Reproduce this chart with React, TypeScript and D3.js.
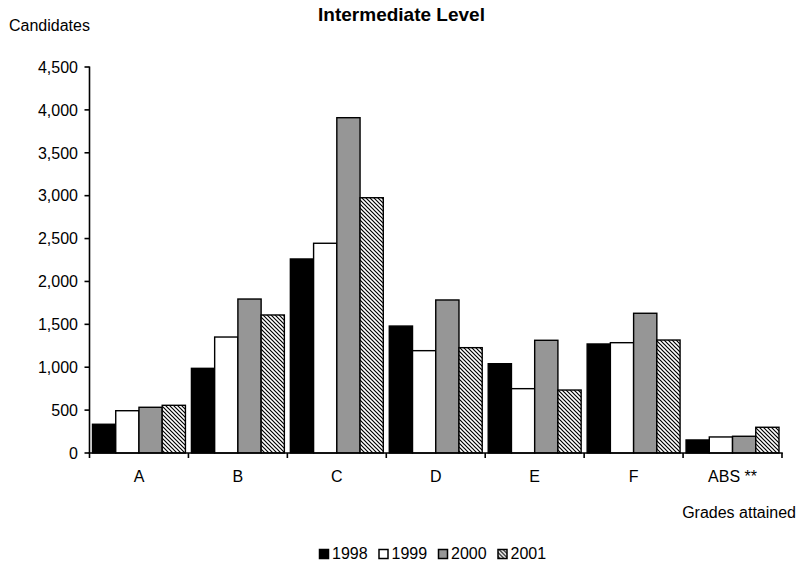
import React from "react";
import * as d3 from "d3";

const categories = ["A", "B", "C", "D", "E", "F", "ABS **"];
const seriesNames = ["1998", "1999", "2000", "2001"];
const values1998 = [335, 987, 2262, 1480, 1041, 1271, 152];
const values1999 = [493, 1352, 2445, 1193, 750, 1286, 187];
const values2000 = [533, 1795, 3909, 1784, 1314, 1629, 195];
const values2001 = [556, 1609, 2976, 1228, 734, 1317, 300];
const yTicks = [0, 500, 1000, 1500, 2000, 2500, 3000, 3500, 4000, 4500];

const seriesValues = [values1998, values1999, values2000, values2001];
const fills = ["#000000", "#ffffff", "#969696", "url(#hatch)"];

const W = 798;
const H = 569;
const left = 89.5;
const right = 782;
const top = 67;
const bottom = 453;
const FONT = "'Liberation Sans', Arial, sans-serif";

export default function App() {
  const x = d3.scaleBand<string>().domain(categories).range([left, right]).padding(0);
  const bw = x.bandwidth();
  const xs = d3.scaleBand<string>().domain(seriesNames).range([3, bw - 3]).padding(0);
  const y = d3.scaleLinear().domain([0, 4500]).range([bottom, top]);
  const fmt = d3.format(",");

  const legendX0 = 319;
  const legendStep = 59.5;

  return (
    <svg
      width={W}
      height={H}
      style={{ position: "absolute", left: 0, top: 0, background: "#fff" }}
      fontFamily={FONT}
    >
      <defs>
        <pattern id="hatch" patternUnits="userSpaceOnUse" width="4" height="4">
          <rect width="4" height="4" fill="#fff" />
          <path d="M-1,-1 L5,5 M-1,3 L1,5 M3,-1 L5,1" stroke="#000" strokeWidth="1.2" />
        </pattern>
      </defs>
      <text x={401.5} y={21} textAnchor="middle" fontWeight="bold" fontSize={19}>
        Intermediate Level
      </text>
      <text x={9} y={31} fontSize={16}>Candidates</text>

      {categories.map((c, i) =>
        seriesNames.map((s, j) => {
          const v = seriesValues[j][i];
          return (
            <rect
              key={c + s}
              x={(x(c) as number) + (xs(s) as number)}
              y={y(v)}
              width={xs.bandwidth()}
              height={bottom - y(v)}
              fill={fills[j]}
              stroke="#000"
              strokeWidth={1.4}
            />
          );
        })
      )}

      <line x1={left} x2={left} y1={top - 0.5} y2={bottom} stroke="#000" strokeWidth={1.6} />
      {yTicks.map((t) => (
        <g key={t}>
          <line x1={left - 5} x2={left} y1={y(t)} y2={y(t)} stroke="#000" strokeWidth={1.6} />
          <text x={78} y={y(t)} dy="0.36em" textAnchor="end" fontSize={16}>
            {fmt(t)}
          </text>
        </g>
      ))}

      <line x1={left - 0.8} x2={right + 0.8} y1={bottom} y2={bottom} stroke="#000" strokeWidth={1.6} />
      {[...categories.map((c) => x(c) as number), right].map((p, i) => (
        <line key={i} x1={p} x2={p} y1={bottom} y2={bottom + 5} stroke="#000" strokeWidth={1.6} />
      ))}
      {categories.map((c) => (
        <text key={c} x={(x(c) as number) + bw / 2} y={482} textAnchor="middle" fontSize={16}>
          {c}
        </text>
      ))}

      <text x={796} y={518} textAnchor="end" fontSize={16}>Grades attained</text>

      {seriesNames.map((s, j) => (
        <g key={s} transform={`translate(${legendX0 + j * legendStep},0)`}>
          <rect x={0.5} y={549.5} width={9} height={9} fill={fills[j]} stroke="#000" strokeWidth={1.5} />
          <text x={13} y={558.5} fontSize={16}>{s}</text>
        </g>
      ))}
    </svg>
  );
}
